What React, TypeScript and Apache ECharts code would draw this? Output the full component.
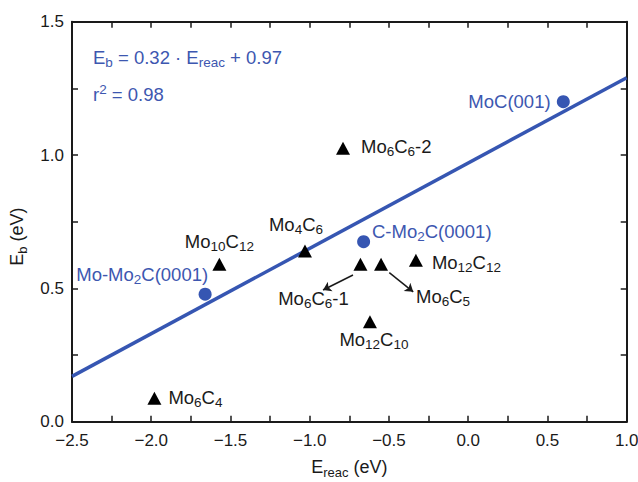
import React, { useEffect, useRef } from 'react';
import * as echarts from 'echarts';

// Linear fit of binding energy against reaction energy
const fitSlope = 0.32;
const fitIntercept = 0.97;
const fitR2 = 0.98;
const xTicks = [-2.5, -2.0, -1.5, -1.0, -0.5, 0.0, 0.5, 1.0];
const yTicks = [0.0, 0.5, 1.0, 1.5];

// Extended surfaces (blue circles)
const surfaceNames = ['MoC(001)', 'C-Mo2C(0001)', 'Mo-Mo2C(0001)'];
const surfaceEreac = [0.6, -0.66, -1.66];
const surfaceEb = [1.2, 0.675, 0.478];

// Clusters (black triangles)
const clusterNames = ['Mo6C6-2', 'Mo10C12', 'Mo4C6', 'Mo6C6-1', 'Mo6C5', 'Mo12C12', 'Mo12C10', 'Mo6C4'];
const clusterEreac = [-0.79, -1.57, -1.03, -0.68, -0.55, -0.33, -0.62, -1.98];
const clusterEb = [1.025, 0.59, 0.64, 0.59, 0.59, 0.605, 0.375, 0.088];

// Pointer arrows from the crowded triangles to their labels (data units)
const arrowStart = [[-0.727, 0.55], [-0.498, 0.559]];
const arrowEnd = [[-0.916, 0.494], [-0.347, 0.487]];

const FONT = '"Liberation Sans", Arial, Helvetica, sans-serif';
const INK = '#1a1a1a';
const BLUE = '#3656b2';
const BLUE_TEXT = '#3d57b0';
const MAIN = 18.5;
const SUB = 13.5;

// label anchoring per point: [align, dx, dy]
const surfaceLabelPlace: Record<string, [string, number, number]> = {
  'MoC(001)': ['right', -12.7, 0],
  'C-Mo2C(0001)': ['left', 8.4, -10],
  'Mo-Mo2C(0001)': ['right', 3, -20],
};
const clusterLabelPlace: Record<string, [string, number, number]> = {
  'Mo6C6-2': ['left', 18, -2],
  'Mo10C12': ['center', 0, -23],
  'Mo4C6': ['center', -9, -27],
  'Mo6C6-1': ['center', -47, 34],
  'Mo6C5': ['left', 35, 32],
  'Mo12C12': ['left', 16, 2],
  'Mo12C10': ['center', 4, 18],
  'Mo6C4': ['left', 14, -1],
};

const richStyles = (color: string, main = MAIN, sub = SUB) => ({
  m: { fontSize: main, lineHeight: 24, fontFamily: FONT, color, fill: color },
  s: { fontSize: sub, lineHeight: 13, verticalAlign: 'bottom', fontFamily: FONT, color, fill: color },
  p: { fontSize: sub, lineHeight: 13, verticalAlign: 'top', fontFamily: FONT, color, fill: color },
});

// split a formula into rich tokens, atom counts as subscripts: Mo6C6-2 -> {m|Mo}{s|6}{m|C}{s|6}{m|-2}
const chem = (name: string) => {
  const parts: string[] = [];
  const re = /([A-Za-z])(\d+)/g;
  let last = 0;
  let m: RegExpExecArray | null;
  while ((m = re.exec(name))) {
    const end = m.index + 1;
    parts.push('{m|' + name.slice(last, end) + '}');
    parts.push('{s|' + m[2] + '}');
    last = end + m[2].length;
  }
  if (last < name.length) parts.push('{m|' + name.slice(last) + '}');
  return parts.join('');
};

const fmtTick = (v: number) => (v < 0 ? '\u2212' + Math.abs(v).toFixed(1) : v.toFixed(1));

function makeOption() {
  const xMin = xTicks[0];
  const xMax = xTicks[xTicks.length - 1];
  const yMin = yTicks[0];
  const yMax = yTicks[yTicks.length - 1];

  const axisLine = { show: true, onZero: false, lineStyle: { color: INK, width: 2 } };
  const axisTick = { show: true, inside: true, length: 6, lineStyle: { color: INK, width: 1.5 } };
  const minorTick = { show: true, splitNumber: 2, length: 6, lineStyle: { color: INK, width: 1.5 } };

  const labelText = (color: string, main = MAIN, sub = SUB) => ({
    fontSize: main,
    lineHeight: 24,
    fontFamily: FONT,
    color,
    textBorderWidth: 0,
    textBorderColor: 'transparent',
    rich: richStyles(color, main, sub),
  });

  const pointData = (
    names: string[],
    xs: number[],
    ys: number[],
    place: Record<string, [string, number, number]>,
    color: string,
  ) =>
    names.map((n, i) => {
      const [align, dx, dy] = place[n];
      return {
        name: n,
        value: [xs[i], ys[i]],
        label: {
          show: true,
          position: 'inside',
          align,
          offset: [dx, dy],
          formatter: chem(n),
          ...labelText(color),
        },
      };
    });

  return {
    animation: false,
    backgroundColor: '#ffffff',
    grid: { left: 72, right: 11.3, top: 21.7, bottom: 60.3, outerBoundsMode: 'none' },
    xAxis: [
      {
        type: 'value',
        position: 'bottom',
        min: xMin,
        max: xMax,
        interval: 0.5,
        axisLine,
        axisTick,
        minorTick,
        splitLine: { show: false },
        axisLabel: { margin: 10, fontSize: 17, fontFamily: FONT, color: INK, formatter: fmtTick },
        name: '{m|E}{s|reac}{m| (eV)}',
        nameLocation: 'middle',
        nameGap: 33,
        nameTextStyle: labelText(INK, 18, 13),
      },
      {
        type: 'value',
        position: 'top',
        min: xMin,
        max: xMax,
        interval: 0.5,
        axisLine,
        axisTick,
        minorTick,
        splitLine: { show: false },
        axisLabel: { show: false },
      },
    ],
    yAxis: [
      {
        type: 'value',
        position: 'left',
        min: yMin,
        max: yMax,
        interval: 0.5,
        axisLine,
        axisTick,
        minorTick,
        splitLine: { show: false },
        axisLabel: { margin: 8, fontSize: 17, fontFamily: FONT, color: INK, formatter: (v: number) => v.toFixed(1) },
        name: '{m|E}{s|b}{m| (eV)}',
        nameLocation: 'middle',
        nameGap: 36,
        nameTextStyle: { ...labelText(INK, 18, 13), padding: [0, 30, 0, 0] },
      },
      {
        type: 'value',
        position: 'right',
        min: yMin,
        max: yMax,
        interval: 0.5,
        axisLine,
        axisTick,
        minorTick,
        splitLine: { show: false },
        axisLabel: { show: false },
      },
    ],
    graphic: [
      {
        type: 'text',
        left: 93,
        top: 48,
        style: {
          text: '{m|E}{s|b}{m| = ' + fitSlope.toFixed(2) + ' \u00b7 E}{s|reac}{m| + ' + fitIntercept.toFixed(2) + '}',
          fill: BLUE_TEXT,
          rich: richStyles(BLUE_TEXT),
        },
      },
      {
        type: 'text',
        left: 93,
        top: 82,
        style: {
          text: '{m|r}{p|2}{m| = ' + fitR2.toFixed(2) + '}',
          fill: BLUE_TEXT,
          rich: richStyles(BLUE_TEXT),
        },
      },
    ],
    series: [
      {
        type: 'line',
        name: 'fit',
        data: [
          [xMin, fitSlope * xMin + fitIntercept],
          [xMax, fitSlope * xMax + fitIntercept],
        ],
        showSymbol: false,
        silent: true,
        z: 1,
        lineStyle: { color: BLUE, width: 3.5 },
      },
      {
        type: 'lines',
        coordinateSystem: 'cartesian2d',
        silent: true,
        z: 3,
        symbol: ['none', 'arrow'],
        symbolSize: 8,
        lineStyle: { color: INK, width: 1.5, opacity: 1 },
        data: arrowStart.map((s, i) => ({ coords: [s, arrowEnd[i]] })),
      },
      {
        type: 'scatter',
        name: 'surfaces',
        symbol: 'circle',
        symbolSize: 13,
        z: 4,
        itemStyle: { color: BLUE, opacity: 1 },
        data: pointData(surfaceNames, surfaceEreac, surfaceEb, surfaceLabelPlace, BLUE_TEXT),
      },
      {
        type: 'scatter',
        name: 'clusters',
        symbol: 'triangle',
        symbolSize: [14, 13],
        z: 4,
        itemStyle: { color: '#000000', opacity: 1 },
        data: pointData(clusterNames, clusterEreac, clusterEb, clusterLabelPlace, INK),
      },
    ],
  };
}

export default function App() {
  const ref = useRef<HTMLDivElement>(null);
  useEffect(() => {
    if (!ref.current) return;
    const chart = echarts.init(ref.current, null, { renderer: 'svg' });
    chart.setOption(makeOption() as any);
    return () => chart.dispose();
  }, []);
  return <div ref={ref} style={{ position: 'absolute', left: 0, top: 0, width: 638, height: 482 }} />;
}
